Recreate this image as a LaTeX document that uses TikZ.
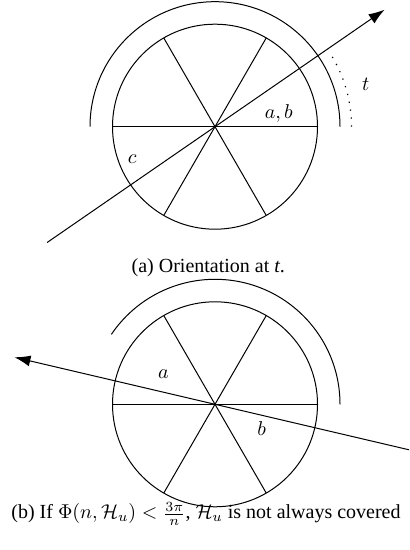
\documentclass[tikz,border=0pt]{standalone}
\usepackage{amsmath,amssymb}
\usepackage{fontspec}
\setmainfont{Liberation Serif}
\usepackage{tikz}
\usetikzlibrary{arrows.meta}
\tikzset{
  rim/.style={line width=0.5pt},
  spk/.style={line width=0.5pt},
  ray/.style={line width=0.5pt,-{Latex[length=8pt,width=5.5pt]}},
  sweep/.style={line width=0.6pt,dash pattern=on 0.6pt off 3.4pt},
  lbl/.style={anchor=base,inner sep=0pt}
}
\newcommand{\Hu}{\mathcal{H}_u}

\begin{document}
\begin{tikzpicture}[x=0.5pt,y=0.5pt]
\clip (0,0) rectangle (409,550);
% (a) orientation at t
\coordinate (o1) at (215,423.3);
\draw[rim] (o1) circle[radius=102.5];
\foreach \a in {0,60,120} \draw[spk] ([shift={(\a:102.5)}]o1) -- ([shift={(\a+180:102.5)}]o1);
\draw[rim] ([shift={(0:125)}]o1) arc[start angle=0,end angle=180,radius=125];
\draw[sweep] ([shift={(0:136.5)}]o1) arc[start angle=0,end angle=33,radius=136.5];
\coordinate (s1) at ([shift={(214.6:204)}]o1); \coordinate (e1) at ([shift={(34.6:206)}]o1);
\draw[ray] (s1) -- (e1);
\node[lbl] (ab) at (278.8,431.7) {$a,b$};
\node[lbl] (c1) at (132.3,386.4) {$c$};
\node[lbl] (t1) at (365.7,459) {$t$};
\node[lbl] (capa) at (208.3,277.5) {(a) Orientation at \textit{t}.};
% (b) not always covered
\coordinate (o2) at (215,145.7);
\draw[rim] (o2) circle[radius=102.5];
\foreach \a in {0,60,120} \draw[spk] ([shift={(\a:102.5)}]o2) -- ([shift={(\a+180:102.5)}]o2);
\draw[rim] ([shift={(0:125)}]o2) arc[start angle=0,end angle=146,radius=125];
\coordinate (s2) at ([shift={(-13.2:205)}]o2); \coordinate (e2) at ([shift={(166.8:206)}]o2);
\draw[ray] (s2) -- (e2);
\node[lbl] (a2) at (163.3,171.7) {$a$};
\node[lbl] (b2) at (261.7,114) {$b$};
\node[lbl] (capb) at (206,31) {(b) If $\Phi(n,\Hu)<\frac{3\pi}{n}$, $\Hu$ is not always covered};
\end{tikzpicture}
\end{document}
